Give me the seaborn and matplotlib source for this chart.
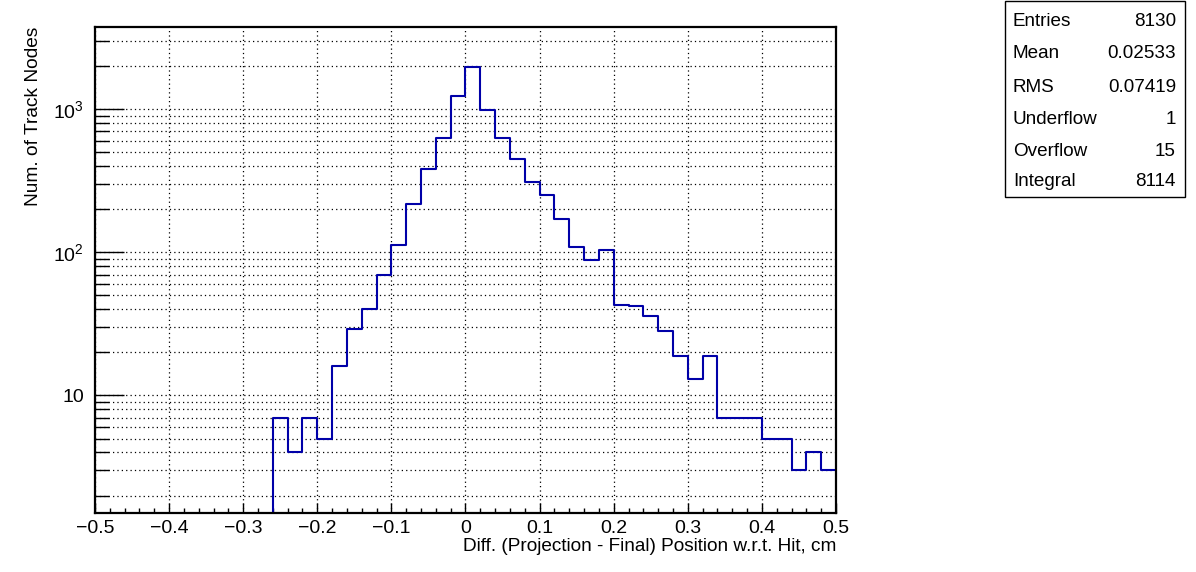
import numpy as np
import pandas as pd
import matplotlib
matplotlib.use("Agg")
import matplotlib.pyplot as plt
import seaborn as sns
from matplotlib.ticker import FixedLocator, FixedFormatter, MultipleLocator, NullFormatter

# histogram contents, 50 bins from -0.5 to 0.5 (width 0.02)
BIN_EDGES = [round(-0.5 + 0.02 * i, 2) for i in range(51)]
COUNTS = [0, 0, 0, 0, 0, 0, 0, 0, 0, 0, 0, 0,
          7, 4, 7, 5, 16, 29, 40, 69, 113, 219, 384, 634, 1240,
          1980, 990, 634, 452, 312, 253, 172, 109, 88, 104,
          43, 42, 36, 28, 19, 13, 19, 7, 7, 7, 5, 5, 3, 4, 3]

STAT_NAMES = ["Entries", "Mean", "RMS", "Underflow", "Overflow", "Integral"]
STAT_VALUES = ["8130", "0.02533", "0.07419", "1", "15", "8114"]

X_LABEL = "Diff. (Projection - Final) Position w.r.t. Hit, cm"
Y_LABEL = "Num. of Track Nodes"
Y_MAJOR = [10, 100, 1000]
Y_MAJOR_LABELS = ["10", "$10^2$", "$10^3$"]

sns.set_style("white")
plt.rcParams["font.family"] = ["Liberation Sans", "DejaVu Sans"]
plt.rcParams["mathtext.fontset"] = "custom"
plt.rcParams["mathtext.rm"] = "Liberation Sans"
plt.rcParams["mathtext.it"] = "Liberation Sans"
plt.rcParams["axes.unicode_minus"] = True
plt.rcParams["text.color"] = "black"
plt.rcParams["axes.labelcolor"] = "black"
plt.rcParams["xtick.color"] = "black"
plt.rcParams["ytick.color"] = "black"

edges = np.array(BIN_EDGES)
df = pd.DataFrame({
    "x": (edges[:-1] + edges[1:]) / 2,
    "w": COUNTS,
})

fig = plt.figure(figsize=(11.96, 5.72), dpi=100)
ax = fig.add_axes([0.0794, 0.1031, 0.6196, 0.8497])

sns.histplot(data=df, x="x", weights="w", bins=BIN_EDGES, element="step",
             fill=False, color="#0000a8", linewidth=1.5, ax=ax)

ax.set_yscale("log")
ax.set_xlim(-0.5, 0.5)
ax.set_ylim(1.51, 3750)

# ticks
ax.xaxis.set_major_locator(MultipleLocator(0.1))
ax.xaxis.set_minor_locator(MultipleLocator(0.02))
ax.xaxis.set_major_formatter(plt.FuncFormatter(
    lambda v, p: "0" if abs(v) < 1e-9 else f"{v:.1f}".replace("-", "\u2212")))
ax.yaxis.set_major_locator(FixedLocator(Y_MAJOR))
ax.yaxis.set_major_formatter(FixedFormatter(Y_MAJOR_LABELS))
minor_y = [m * 10 ** k for k in range(0, 4) for m in range(2, 10)]
ax.yaxis.set_minor_locator(FixedLocator(minor_y))
ax.yaxis.set_minor_formatter(NullFormatter())

ax.tick_params(axis="x", which="major", direction="in", length=7, width=1,
               labelsize=14, pad=5, bottom=True, top=False, colors="black")
ax.tick_params(axis="x", which="minor", direction="in", length=3.6, width=1,
               bottom=True, top=False, colors="black")
ax.tick_params(axis="y", which="major", direction="in", length=21, width=1,
               labelsize=14, pad=8, left=True, right=False, colors="black")
ax.tick_params(axis="y", which="minor", direction="in", length=10, width=1,
               left=True, right=False, colors="black")

# dotted grid like ROOT
ax.grid(True, axis="x", which="major", color="black", linestyle=(0, (1, 2.5)), linewidth=0.9)
ax.grid(True, axis="y", which="both", color="black", linestyle=(0, (1, 2.5)), linewidth=0.9)
ax.set_axisbelow(True)

for s in ax.spines.values():
    s.set_color("black")
    s.set_linewidth(1.6)

ax.set_xlabel(X_LABEL, fontsize=13.7, ha="right", x=1.0, labelpad=1)
ax.set_ylabel(Y_LABEL, fontsize=13.8, ha="right", y=1.0, labelpad=8)

# stats box
bx0, by0, bx1, by1 = 1005 / 1196, 1 - 197 / 572, 1185 / 1196, 1 - 1 / 572
fig.patches.append(plt.Rectangle((bx0, by0), bx1 - bx0, by1 - by0, transform=fig.transFigure,
                                 facecolor="white", edgecolor="black", linewidth=1))
row_y = [21, 53, 87, 119, 152, 182]
for name, val, yy in zip(STAT_NAMES, STAT_VALUES, row_y):
    fig.text(1013 / 1196, 1 - yy / 572, name, fontsize=13.6, ha="left", va="center")
    fig.text(1176 / 1196, 1 - yy / 572, val, fontsize=13.6, ha="right", va="center")

fig.savefig("out.png", dpi=100)
